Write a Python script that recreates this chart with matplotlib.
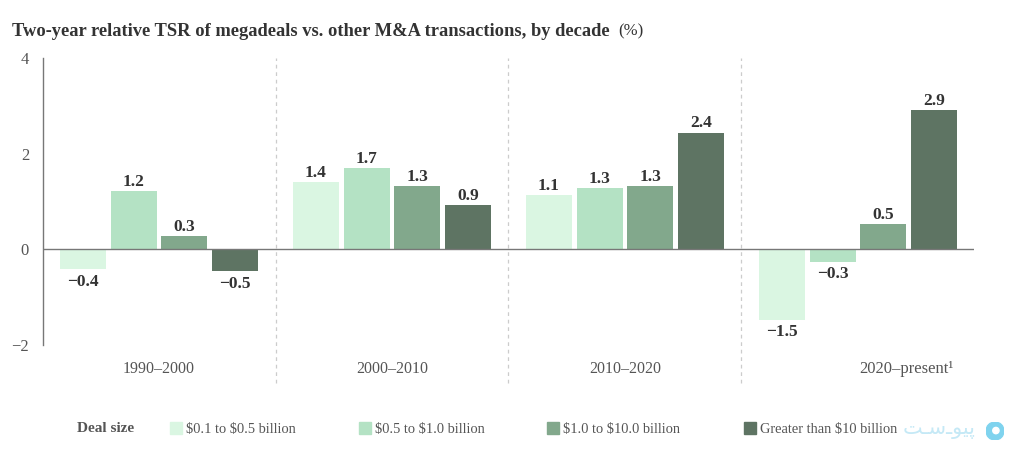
import matplotlib.pyplot as plt
from matplotlib.patches import Rectangle, Circle

W, H = 1024, 459

decades = ['1990–2000', '2000–2010', '2010–2020', '2020–present¹']
sizes = ['\\$0.1 to \\$0.5 billion', '\\$0.5 to \\$1.0 billion', '\\$1.0 to \\$10.0 billion', 'Greater than \\$10 billion']
colors = ['#daf6e2', '#b4e2c4', '#82a88c', '#5e7463']

small = [-0.42, 1.40, 1.13, -1.47]
mid = [1.21, 1.70, 1.28, -0.27]
large = [0.27, 1.32, 1.32, 0.52]
mega = [-0.46, 0.92, 2.44, 2.91]
series = [small, mid, large, mega]

yticks = [-2, 0, 2, 4]
legend_box_x = [170, 359, 547, 744]

plt.rcParams['font.family'] = ['Liberation Serif', 'DejaVu Serif']

fig = plt.figure(figsize=(W / 100, H / 100), dpi=100)
ax = fig.add_axes([43 / W, 1 - 345 / H, 931 / W, 287 / H])
ax.set_xlim(-0.498, 3.498)
ax.set_ylim(-2, 4)

bar_w = 0.197
step = 0.2175
for s, vals in enumerate(series):
    xs = [i + (s - 1.5) * step for i in range(len(decades))]
    ax.bar(xs, vals, width=bar_w, color=colors[s], zorder=2)
    for x, v in zip(xs, vals):
        txt = f'{abs(v):.1f}' if v >= 0 else f'−{abs(v):.1f}'
        ax.annotate(txt, (x, v), xytext=(0, 1 if v >= 0 else -3), textcoords='offset points',
                    ha='center', va='bottom' if v >= 0 else 'top',
                    fontsize=12.5, fontweight='bold', color='#333333')

# zero line and left axis
ax.axhline(0, color='#777777', lw=1, zorder=3)
for sp in ['top', 'right', 'bottom']:
    ax.spines[sp].set_visible(False)
ax.spines['left'].set_color('#777777')
ax.spines['left'].set_linewidth(1)

ax.set_xticks([])
ax.set_yticks(yticks, [str(t).replace('-', '−') for t in yticks])
ax.tick_params(axis='y', length=0, pad=10, labelsize=12, labelcolor='#555555')

# dividers run below the axes
for x in [0.5, 1.5, 2.5]:
    ax.plot([x, x], [-2.8, 4], color='#cccccc', lw=0.9, ls=(0, (3, 3)), clip_on=False, zorder=1)

for i, d in enumerate(decades):
    ax.text(i + (0.21 if i == 3 else 0), -2.5, d, ha='center', va='center', fontsize=12 if i == 3 else 11.5, color='#555555')

fig.text(12 / W, 1 - 31 / H, 'Two-year relative TSR of megadeals vs. other M&A transactions, by decade',
         fontsize=13.3, fontweight='bold', color='#333333', va='center')
fig.text(618 / W, 1 - 31 / H, '(%)', fontsize=12, color='#333333', va='center')

# legend
fig.text(77 / W, 1 - 429 / H, 'Deal size', fontsize=11, fontweight='bold', color='#555555', va='center')
for x, c, label in zip(legend_box_x, colors, sizes):
    fig.add_artist(Rectangle((x / W, 1 - 434 / H), 12 / W, 12 / H, color=c, transform=fig.transFigure))
    fig.text((x + 16) / W, 1 - 429 / H, label, fontsize=10.4, color='#555555', va='center')

# watermark
fig.text(903 / W, 1 - 429 / H, 'ﺖـﺳـﻮﯿﭘ', fontsize=15, color='#c5e9f6', va='center',
         family=['DejaVu Sans'])
ax_wm = fig.add_axes([986 / W, 1 - 440 / H, 18 / W, 18 / H])
ax_wm.axis('off')
ax_wm.set_xlim(-1, 1)
ax_wm.set_ylim(-1, 1)
ax_wm.add_patch(Circle((0, 0), 1, color='#7fd3ee'))
ax_wm.add_patch(Circle((0.1, 0.05), 0.35, color='white'))

fig.savefig('out.png', dpi=100)
